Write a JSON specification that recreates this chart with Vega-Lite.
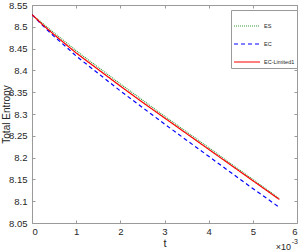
{
  "$schema": "https://vega.github.io/schema/vega-lite/v6.json",
  "width": 265,
  "height": 218,
  "autosize": {"type": "none"},
  "padding": {"left": 32, "top": 5, "right": 5, "bottom": 29},
  "background": "white",
  "config": {
    "view": {"stroke": "#9a9a9a", "strokeWidth": 1},
    "font": "Liberation Sans",
    "axis": {"grid": false, "domain": false, "tickColor": "#9a9a9a", "labelColor": "#262626", "titleColor": "#262626", "labelFont": "Liberation Sans", "titleFont": "Liberation Sans", "titleFontWeight": "normal"}
  },
  "resolve": {"axis": {"x": "independent", "y": "independent"}},
  "datasets": {
    "series": [
      {"t": 0.0, "v": 8.528, "method": "ES"},
      {"t": 0.00025, "v": 8.507, "method": "ES"},
      {"t": 0.0005, "v": 8.486, "method": "ES"},
      {"t": 0.00075, "v": 8.466, "method": "ES"},
      {"t": 0.001, "v": 8.445, "method": "ES"},
      {"t": 0.0015, "v": 8.407, "method": "ES"},
      {"t": 0.002, "v": 8.369, "method": "ES"},
      {"t": 0.0025, "v": 8.332, "method": "ES"},
      {"t": 0.003, "v": 8.295, "method": "ES"},
      {"t": 0.0035, "v": 8.259, "method": "ES"},
      {"t": 0.004, "v": 8.223, "method": "ES"},
      {"t": 0.0045, "v": 8.186, "method": "ES"},
      {"t": 0.005, "v": 8.150, "method": "ES"},
      {"t": 0.0056, "v": 8.106, "method": "ES"},
      {"t": 0.0, "v": 8.528, "method": "EC"},
      {"t": 0.00025, "v": 8.502, "method": "EC"},
      {"t": 0.0005, "v": 8.478, "method": "EC"},
      {"t": 0.00075, "v": 8.456, "method": "EC"},
      {"t": 0.001, "v": 8.433, "method": "EC"},
      {"t": 0.0015, "v": 8.393, "method": "EC"},
      {"t": 0.002, "v": 8.353, "method": "EC"},
      {"t": 0.0025, "v": 8.315, "method": "EC"},
      {"t": 0.003, "v": 8.277, "method": "EC"},
      {"t": 0.0035, "v": 8.240, "method": "EC"},
      {"t": 0.004, "v": 8.203, "method": "EC"},
      {"t": 0.0045, "v": 8.166, "method": "EC"},
      {"t": 0.005, "v": 8.129, "method": "EC"},
      {"t": 0.0056, "v": 8.086, "method": "EC"},
      {"t": 0.0, "v": 8.528, "method": "EC-Limited1"},
      {"t": 0.00025, "v": 8.504, "method": "EC-Limited1"},
      {"t": 0.0005, "v": 8.482, "method": "EC-Limited1"},
      {"t": 0.00075, "v": 8.461, "method": "EC-Limited1"},
      {"t": 0.001, "v": 8.440, "method": "EC-Limited1"},
      {"t": 0.0015, "v": 8.402, "method": "EC-Limited1"},
      {"t": 0.002, "v": 8.364, "method": "EC-Limited1"},
      {"t": 0.0025, "v": 8.327, "method": "EC-Limited1"},
      {"t": 0.003, "v": 8.291, "method": "EC-Limited1"},
      {"t": 0.0035, "v": 8.255, "method": "EC-Limited1"},
      {"t": 0.004, "v": 8.219, "method": "EC-Limited1"},
      {"t": 0.0045, "v": 8.183, "method": "EC-Limited1"},
      {"t": 0.005, "v": 8.147, "method": "EC-Limited1"},
      {"t": 0.0056, "v": 8.104, "method": "EC-Limited1"}
    ]
  },
  "layer": [
    {
      "data": {"name": "series"},
      "mark": {"type": "line", "strokeWidth": 1.2, "clip": true},
      "encoding": {
        "x": {"field": "t", "type": "quantitative", "scale": {"domain": [0, 0.006], "nice": false},
          "axis": {"orient": "bottom", "title": "t", "values": [0, 0.001, 0.002, 0.003, 0.004, 0.005, 0.006], "labelExpr": "format(datum.value*1000, 'd')", "tickSize": -3, "labelPadding": 6, "labelFontSize": 9.5, "titleFontSize": 11, "titlePadding": 2}},
        "y": {"field": "v", "type": "quantitative", "scale": {"domain": [8.05, 8.55], "nice": false, "zero": false},
          "axis": {"orient": "left", "title": "Total Entropy", "values": [8.05, 8.1, 8.15, 8.2, 8.25, 8.3, 8.35, 8.4, 8.45, 8.5, 8.55], "format": ".3~g", "tickSize": -3, "labelPadding": 8, "labelFontSize": 9.5, "titleFontSize": 10, "titleX": -21, "titleY": 109, "titleAngle": -90, "titleBaseline": "bottom", "titleAlign": "center"}},
        "color": {"field": "method", "type": "nominal", "sort": ["ES", "EC", "EC-Limited1"],
          "scale": {"domain": ["ES", "EC", "EC-Limited1"], "range": ["#3c9a3c", "#0000ff", "#ff0000"]},
          "legend": {"title": null, "orient": "none", "legendX": 199, "legendY": 5, "labelFontSize": 5.5, "labelColor": "#262626", "symbolType": "stroke", "symbolSize": 676, "symbolStrokeWidth": 1.2, "strokeColor": "#9a9a9a", "fillColor": "white", "padding": 2, "rowPadding": -20, "labelOffset": 3}},
        "strokeDash": {"field": "method", "type": "nominal", "sort": ["ES", "EC", "EC-Limited1"],
          "scale": {"domain": ["ES", "EC", "EC-Limited1"], "range": [[1, 1], [4, 3], [1, 0]]},
          "legend": {"title": null, "orient": "none", "legendX": 199, "legendY": 5}},
        "order": {"field": "t"}
      }
    },
    {
      "data": {"name": "series"},
      "mark": {"type": "point", "opacity": 0},
      "encoding": {
        "x": {"field": "t", "type": "quantitative", "scale": {"domain": [0, 0.006], "nice": false}, "axis": {"orient": "top", "title": null, "labels": false, "values": [0, 0.001, 0.002, 0.003, 0.004, 0.005, 0.006], "tickSize": -3}},
        "y": {"field": "v", "type": "quantitative", "scale": {"domain": [8.05, 8.55], "nice": false, "zero": false}, "axis": {"orient": "right", "title": null, "labels": false, "values": [8.05, 8.1, 8.15, 8.2, 8.25, 8.3, 8.35, 8.4, 8.45, 8.5, 8.55], "tickSize": -3}}
      }
    },
    {
      "data": {"values": [{"t": 0.006, "v": 8.05, "s": "×10"}]},
      "mark": {"type": "text", "align": "right", "baseline": "middle", "dx": -6, "dy": 24, "fontSize": 9, "color": "#262626"},
      "encoding": {"x": {"field": "t", "type": "quantitative", "axis": null}, "y": {"field": "v", "type": "quantitative", "axis": null}, "text": {"field": "s"}}
    },
    {
      "data": {"values": [{"t": 0.006, "v": 8.05, "s": "-3"}]},
      "mark": {"type": "text", "align": "right", "baseline": "middle", "dx": 1, "dy": 19, "fontSize": 7, "color": "#262626"},
      "encoding": {"x": {"field": "t", "type": "quantitative", "axis": null}, "y": {"field": "v", "type": "quantitative", "axis": null}, "text": {"field": "s"}}
    }
  ]
}
